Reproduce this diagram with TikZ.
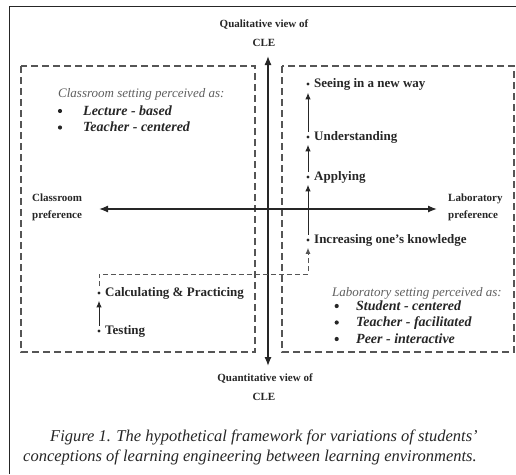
\documentclass[tikz,border=0pt]{standalone}
\usepackage{fontspec}
\setmainfont{Liberation Serif}
\usetikzlibrary{arrows.meta}
\definecolor{ink}{HTML}{262626}
\definecolor{dashgray}{HTML}{555555}
\definecolor{softgray}{HTML}{5E5E5E}

\begin{document}
\begin{tikzpicture}[x=1pt,y=-1pt,
  frame/.style={draw=ink, line width=0.9pt},
  setbox/.style={draw=dashgray, line width=1.1pt, dash pattern=on 7pt off 4pt},
  axis/.style={draw=ink, line width=1.3pt, {Latex[length=9pt,width=7pt]}-{Latex[length=9pt,width=7pt]}},
  steparrow/.style={draw=ink, line width=1pt, -{Latex[length=6.5pt,width=5.5pt]}, shorten <=3.5pt, shorten >=6pt},
  linkarrow/.style={draw=dashgray, line width=1pt, dash pattern=on 5pt off 3pt, -{Latex[length=6pt,width=5pt]}, shorten <=5pt, shorten >=6pt},
  dot/.style={circle, fill=ink, inner sep=0pt, minimum size=3.2pt},
  bul/.style={circle, fill=ink, inner sep=0pt, minimum size=4.2pt},
  lbl/.style={font=\fontsize{13}{15}\selectfont\bfseries, text=ink, inner sep=0pt, anchor=base west},
  axislbl/.style={font=\fontsize{11}{13}\selectfont\bfseries, text=ink, inner sep=0pt, anchor=base},
  sidelbl/.style={font=\fontsize{11}{13}\selectfont\bfseries, text=ink, inner sep=0pt, anchor=base west},
  head/.style={font=\fontsize{13}{15}\selectfont\itshape, text=softgray, inner sep=0pt, anchor=base west},
  item/.style={font=\fontsize{14}{16}\selectfont\bfseries\itshape, text=ink, inner sep=0pt, anchor=base west},
  captext/.style={font=\fontsize{16.5}{20}\selectfont\itshape, text=ink, inner sep=0pt, anchor=base west}
]
\useasboundingbox (0,0) rectangle (516,474);

% outer frame (top and left edges)
\draw[frame] (516,6.5) -- (9,6.5) -- (9,474);

% the two setting boxes
\draw[setbox] (21,66) rectangle (255,352);
\draw[setbox] (282,66) rectangle (514,352);

% axes
\coordinate (qualTip) at (268,56);
\coordinate (quantTip) at (268,366);
\coordinate (classTip) at (99,209);
\coordinate (labTip) at (437,209);
\draw[axis] (quantTip) -- (qualTip);
\draw[axis] (classTip) -- (labTip);

% axis labels
\node[axislbl] (qualA) at (264,27.5) {Qualitative view of};
\node[axislbl] (qualB) at (264,46) {CLE};
\node[axislbl] (quantA) at (265,381) {Quantitative view of};
\node[axislbl] (quantB) at (264,400.5) {CLE};
\node[sidelbl] (classA) at (32,201.5) {Classroom};
\node[sidelbl] (classB) at (32,218.5) {preference};
\node[sidelbl] (labA) at (448,201.5) {Laboratory};
\node[sidelbl] (labB) at (448,218.5) {preference};

% classroom setting list
\node[head] (clsHead) at (58,97) {Classroom setting perceived as:};
\node[bul] (clsB1) at (60,111) {};
\node[item] (clsI1) at (83,115) {Lecture - based};
\node[bul] (clsB2) at (60,127.5) {};
\node[item] (clsI2) at (83,131.5) {Teacher - centered};

% laboratory setting list
\node[head] (labHead) at (332,296) {Laboratory setting perceived as:};
\node[bul] (labB1) at (336.7,306) {};
\node[item] (labI1) at (356,310) {Student - centered};
\node[bul] (labB2) at (336.7,322.5) {};
\node[item] (labI2) at (356,326.5) {Teacher - facilitated};
\node[bul] (labB3) at (336.7,339) {};
\node[item] (labI3) at (356,343) {Peer - interactive};

% conception steps
\node[dot] (seeing) at (308,84) {};
\node[lbl] (seeingL) at (314,87) {Seeing in a new way};
\node[dot] (underst) at (308,137) {};
\node[lbl] (understL) at (314,140) {Understanding};
\node[dot] (applying) at (308,177) {};
\node[lbl] (applyingL) at (314,180) {Applying};
\node[dot] (increase) at (308,240) {};
\node[lbl] (increaseL) at (314,243) {Increasing one’s knowledge};
\node[dot] (calcul) at (99,293) {};
\node[lbl] (calculL) at (105,296) {Calculating \& Practicing};
\node[dot] (testing) at (99,331) {};
\node[lbl] (testingL) at (105,334.5) {Testing};

\draw[steparrow] (testing) -- (calcul);
\draw[steparrow] (increase) -- (applying);
\draw[steparrow] (applying) -- (underst);
\draw[steparrow, shorten >=7pt] (underst) -- (seeing);

\coordinate (linkA) at (99,274);
\coordinate (linkB) at (308,274);
\draw[linkarrow] (calcul) -- (linkA) -- (linkB) -- (increase);

% caption
\node[captext] (capA) at (50,441) {Figure 1. The hypothetical framework for variations of students’};
\node[captext] (capB) at (23,461) {conceptions of learning engineering between learning environments.};
\end{tikzpicture}
\end{document}
